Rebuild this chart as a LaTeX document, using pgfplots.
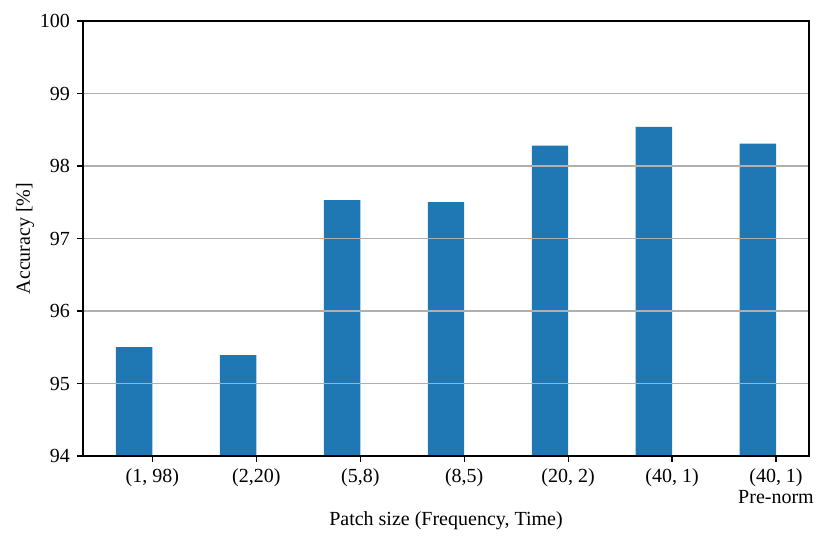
\documentclass[border=0pt]{standalone}
\usepackage{pgfplots}
\pgfplotsset{compat=1.18}
\usepackage{fontspec}
\setmainfont{Liberation Serif}
\definecolor{barblue}{HTML}{1F77B4}
\definecolor{gridgray}{HTML}{B0B0B0}
\begin{document}
\begin{tikzpicture}
\begin{axis}[
    width=363pt, height=217.5pt, scale only axis,
    xmin=-0.6675, xmax=6.3175,
    ymin=94, ymax=100,
    ytick={94,95,96,97,98,99,100},
    xtick={0,1,2,3,4,5,6},
    xticklabels={{(1, 98)},{(2,20)},{(5,8)},{(8,5)},{(20, 2)},{(40, 1)},{(40, 1)\\Pre-norm}},
    xticklabel style={align=center, font=\fontsize{10}{10.5}\selectfont},
    yticklabel style={font=\fontsize{10}{12}\selectfont},
    /pgf/number format/assume math mode=true,
    tick align=outside, tick pos=left,
    major tick length=3pt,
    every tick/.style={black, line width=0.6pt},
    axis line style={line width=0.8pt},
    ymajorgrids, grid style={gridgray, line width=0.8pt},
    axis on top,
    xlabel={Patch size (Frequency, Time)},
    ylabel={Accuracy [\%]},
    every axis x label/.style={at={(axis description cs:0.5,-0.1494)}, anchor=center},
    every axis y label/.style={at={(axis description cs:-0.0799,0.5)}, rotate=90, anchor=center},
    label style={font=\fontsize{10}{12}\selectfont},
    ybar, bar width=0.35, bar shift=-0.175,
]
\addplot[fill=barblue, draw=none] coordinates {
    (0,95.50) (1,95.39) (2,97.53) (3,97.50) (4,98.28) (5,98.54) (6,98.31)
};
\end{axis}
\pgfresetboundingbox
\path[use as bounding box] ([xshift=-41.5pt,yshift=-45.5pt]current axis.south west)
    rectangle ([xshift=10.5pt,yshift=10.5pt]current axis.north east);
\end{tikzpicture}
\end{document}
